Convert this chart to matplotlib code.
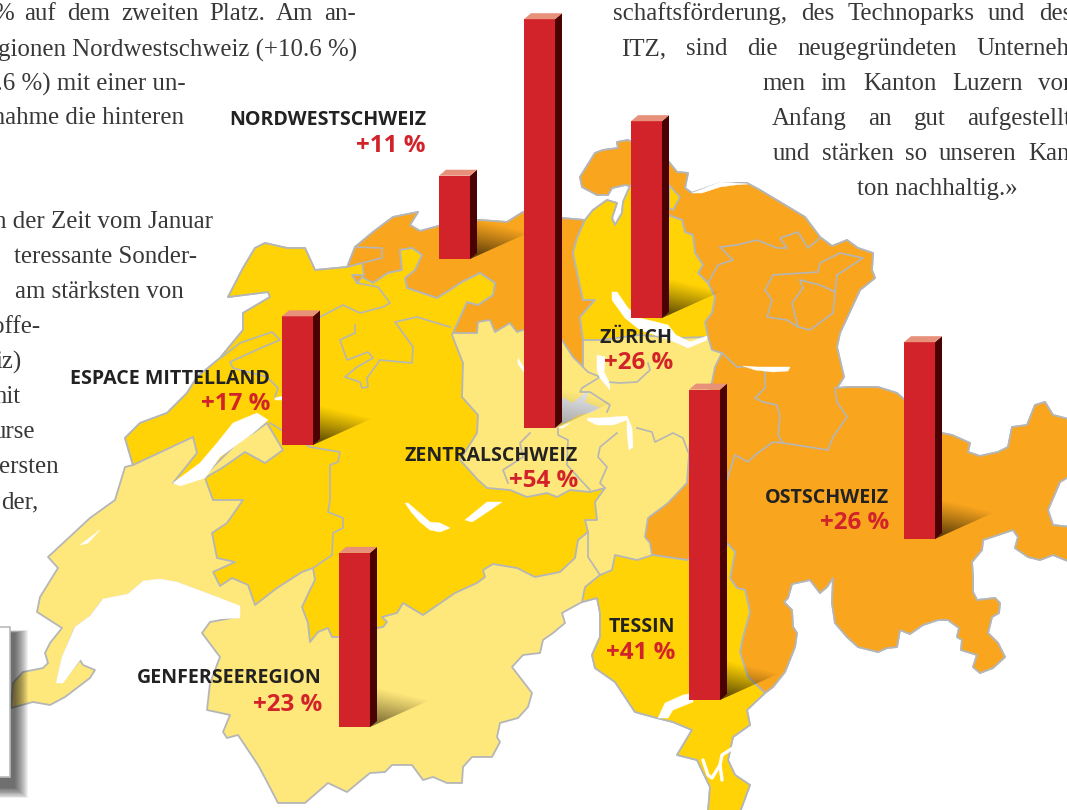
import numpy as np
import matplotlib
matplotlib.use("Agg")
import matplotlib.pyplot as plt
from matplotlib.patches import Polygon, Rectangle

# ---- data -------------------------------------------------------------
regions = ["NORDWESTSCHWEIZ", "ESPACE MITTELLAND", "ZENTRALSCHWEIZ", "ZÜRICH",
           "TESSIN", "OSTSCHWEIZ", "GENFERSEEREGION"]
values = [11, 17, 54, 26, 41, 26, 23]

# ---- layout -----------------------------------------------------------
bar_left = [439, 282, 524, 631, 689, 904, 339]
bar_base = [259, 445, 428, 318, 700, 539, 727]
label_right = [426, 270, 578, 673, 675, 889, 322]
label_y = [120, 379, 456, 338, 627, 498, 678]
value_y = [146, 404, 481, 363, 653, 523, 705]
shadow_strength = [0.8, 0.8, 0.3, 0.8, 0.8, 0.8, 0.65]
PX_PER_PCT = 7.57
BAR_W, DX, DY = 31, 7, 6

LIGHT, DARK, ORANGE = "#FEE77B", "#FFD305", "#F9A51E"
RED, SIDE, TOP, EDGE = "#D2232A", "#4A0202", "#E8917A", "#B4B6B8"

schaff = [(630,186),(625,185),(612,188),(608,195),(597,195),(582,187),(580,177),(595,153),(603,150),(618,148),(617,142),(628,140),
 (669,162),(677,172),(688,173),(685,188),(692,193)]

east = [(720,183),(747,183),(760,190),(805,217),(820,237),(832,246),(847,240),(858,248),(873,253),(872,270),(875,278),
 (860,290),(840,333),(837,347),(844,377),(837,388),(848,387),(878,387),(897,393),(942,433),(952,435),(970,443),(968,452),(980,456),(998,452),
 (1008,447),(1012,427),(1027,425),(1035,405),(1045,402),(1053,415),(1080,422),(1080,470),(1060,482),(1048,510),(1053,525),(1080,528),(1080,566),
 (1053,555),(1040,560),(1028,557),(1015,548),(1018,537),(1013,530),(983,540),(982,550),(972,562),(973,577),(973,592),(977,600),(995,598),(1000,603),
 (999,613),(992,617),(988,633),(998,643),(1005,657),(993,668),(980,673),(973,667),(977,655),(961,650),(962,640),(957,637),(959,628),(948,620),
 (938,620),(923,625),(910,634),(900,630),(897,647),(887,648),(878,652),(858,647),(847,637),(835,623),(832,603),(833,578),(827,587),(820,593),
 (810,580),(792,584),(788,598),(784,602),(792,610),(793,627),(797,633),(795,647),(785,672),(773,687),(765,693)]

country = [(11,708),(13,683),(23,672),(43,668),(48,663),(45,653),(50,643),(62,628),(37,612),(40,597),(58,568),(48,557),(90,518),
 (115,500),(125,467),(133,465),(125,438),(140,423),(167,413),(187,393),(197,377),(220,358),(243,330),(243,313),(270,297),(268,292),(228,297),
 (243,268),(255,248),(265,243),(287,248),(305,248),(315,270),(347,267),(355,247),(373,232),(393,217),(418,212),(410,225),(420,231),(453,222),
 (480,220),(507,222),(523,212),(562,218),(585,220),(593,210),(607,200),(617,203),(612,218),(615,225),(622,213),(623,202)] + schaff + east + [
 (747,710),(750,725),(733,737),
 (728,760),(735,775),(750,785),(740,812),(708,812),(710,787),(697,760),(677,755),(692,730),(673,722),(657,718),(635,712),(625,697),(615,682),
 (595,668),(592,655),(600,637),(600,613),(597,598),(582,602),(562,613),(565,623),(553,633),(543,640),(540,653),(523,655),(512,667),(532,693),
 (528,707),(518,718),(500,723),(497,737),(500,742),(492,757),(472,757),(463,767),(462,783),(447,783),(433,777),(423,780),(412,765),(392,765),
 (385,772),(370,773),(347,792),(328,783),(305,803),(278,803),(265,778),(258,765),(238,735),(227,738),(223,732),(230,715),(207,710),(210,683),
 (220,657),(202,633),(210,622),(237,617),(237,607),(217,598),(177,583),(160,580),(143,582),(128,595),(103,600),(90,617),(75,628),(63,657),
 (57,682),(62,682),(80,660),(83,665),(95,670),(90,678),(65,697),(50,705),(33,702)]

orange = schaff + east + [
 (748,677),(740,652),(743,637),(750,612),(745,590),(737,588),(730,578),(735,552),(727,543),(687,560),(652,555),(650,543),(645,537),(648,518),
 (668,503),(687,483),(690,440),(712,382),(715,367),(722,353),(712,350),(708,337),(705,322),(712,313),(715,297),(708,283),(698,273),(703,265),
 (695,253),(693,235),(685,232),(682,220),(668,215),(668,188)]

nordwest = [(355,247),(373,232),(393,217),(418,212),(410,225),(420,231),(453,222),(480,220),(507,222),(523,212),(562,218),(585,220),
 (577,238),(573,253),(578,277),(583,300),(595,300),(580,317),(583,340),(583,367),(573,357),(562,340),(523,330),(517,332),(510,323),(495,332),
 (490,320),(478,322),(477,333),(453,333),(467,302),(478,305),(493,295),(495,283),(480,273),(462,282),(450,290),(437,298),(407,288),(405,278),
 (415,270),(422,255),(412,248),(400,250),(402,270),(388,273),(373,283),(357,283),(347,268)]

mittelland = [(125,438),(140,423),(167,413),(187,393),(197,377),(220,358),(243,330),(243,313),(270,297),(268,292),(228,297),(243,268),
 (255,248),(265,243),(287,248),(305,248),(315,270),(347,267),(362,263),(364,275),(352,275),(357,283),(362,277),(373,283),(388,273),(402,270),(400,250),(412,248),
 (422,255),(415,270),(405,278),(407,288),(437,298),(450,290),(462,282),(480,273),(495,283),(493,295),(478,305),(467,302),(452,335),(463,363),
 (462,397),(478,415),(477,433),(460,460),(478,480),(487,488),(510,490),(527,497),(547,493),(557,497),(570,490),(590,492),(605,488),(595,502),
 (597,520),(585,520),(588,532),(578,540),(575,558),(560,572),(535,577),(517,568),(493,564),(483,570),(485,577),(477,583),(455,593),(423,615),
 (403,603),(397,613),(382,617),(387,622),(383,627),(377,628),(339,637),(332,637),(328,628),(318,632),(310,642),(308,623),(302,607),(310,590),
 (315,580),(313,568),(302,572),(277,588),(255,605),(248,585),(232,578),(220,586),(213,572),(235,562),(217,558),(212,533),(227,523),(243,500),
 (213,500),(205,478),(222,468),(245,452),(265,463),(283,450),(267,423),(253,433),(240,440),(205,475),(173,483),(197,453),(193,437),(133,465)]

zurich = [(585,220),(593,210),(607,200),(617,203),(612,218),(615,225),(622,213),(623,202),(630,186),(668,188),(668,215),(682,220),(685,232),(693,235),(695,253),
 (703,265),(698,273),(708,283),(715,297),(712,313),(705,322),(708,337),(675,338),(640,335),(600,340),(583,340),(580,317),(595,300),(583,300),
 (578,277),(573,253),(577,238)]
zurich_tip = [(669,185),(680,197),(673,210),(669,208)]

tessin = [(582,602),(585,587),(600,575),(612,570),(615,555),(637,560),(653,555),(687,560),(727,543),(735,552),(730,578),(737,588),(745,590),
 (750,612),(743,637),(740,652),(748,677),(765,693),(747,710),(750,725),(733,737),(728,760),(735,775),(750,785),(740,812),(708,812),(710,787),
 (697,760),(677,755),(692,730),(673,722),(657,718),(635,712),(625,697),(615,682),(595,668),(592,655),(600,637),(600,613),(597,598)]

lakes = [
 [(211,619),(240,618),(240,606),(217,597),(177,582),(160,579),(143,581),(128,594),(103,599),(90,616),(75,627),(62,657),(56,683),(63,683),(80,660),(100,640),(150,625)],
 [(173,483),(200,463),(217,443),(233,423),(257,413),(268,420),(253,433),(220,457),(205,478),(180,486)],
 [(612,292),(617,292),(628,308),(640,318),(668,325),(676,335),(690,342),(707,336),(707,340),(688,348),(670,340),(640,330),(625,318),(612,300)],
 [(405,503),(412,513),(420,522),(430,530),(440,532),(450,528),(440,523),(430,522),(422,515),(408,503)],
 [(465,520),(487,502),(502,502),(480,517),(472,522)],
 [(80,545),(100,530),(88,543)],
 [(743,366),(757,367),(790,367),(788,371),(773,372),(755,370)],
 [(658,718),(665,703),(683,695),(693,693),(693,702),(673,710),(668,718)],
 [(692,193),(700,190),(720,182),(748,184),(735,185),(720,187),(702,193)],
 [(597,355),(605,357),(604,372),(609,382),(610,390),(600,378),(597,370)],
 [(588,418),(600,418),(627,416),(632,428),(633,447),(629,450),(627,433),(627,420),(613,425),(597,425),(587,420)],
 [(558,428),(570,423),(563,428)],
 [(518,358),(524,368),(524,372),(518,364)],
 [(275,398),(283,396),(283,400),(275,400)],
]
zug_lake = [(563,397),(572,403),(589,390),(585,402),(600,408),(590,413),(578,415),(565,423),(556,423)]
lugano = [[(703,760),(708,775),(712,778),(720,765),(722,755),(733,748)], [(720,765),(722,780)]]

borders = [
 [(222,357),(240,343),(272,332),(280,340),(263,347),(230,362),(233,368),(267,377),(278,388),(275,397)],
 [(320,317),(343,305),(360,313),(383,307),(390,303),(378,287),(357,283)],
 [(355,325),(355,333),(340,340),(347,360),(368,352),(373,358),(357,367),(345,377),(360,382),(362,388),(368,387),(367,378),(380,360),(412,363),(413,347),(395,322),(417,317),(450,327)],
 [(270,423),(310,447),(340,452),(338,462),(330,465),(330,500),(328,512),(343,518),(343,528),(333,533),(332,555),(313,568)],
 [(355,247),(382,248),(382,258),(362,263)],
 [(530,433),(520,443),(523,457),(503,470),(508,483)],
 [(558,428),(558,435),(568,440),(567,465),(578,477),(590,490)],
 [(617,433),(600,447),(598,457),(607,467),(600,483),(605,488)],
 [(637,428),(652,432),(655,442),(673,433),(683,438),(688,452)],
 [(583,367),(588,372),(600,377),(582,388),(580,392),(590,392),(610,405),(607,412)],
 [(600,377),(608,382),(620,383),(637,382),(650,370),(648,363)],
 [(588,532),(588,557),(600,575)],
 [(720,247),(737,245),(757,240),(777,248),(787,248),(780,238),(798,232),(808,248),(820,238)],
 [(720,247),(733,260),(718,265),(708,283)],
 [(837,275),(863,258),(840,253),(820,263),(818,272),(773,275),(765,290),(772,300),(767,317),(787,320),(798,327),(810,330),(833,313),(837,275)],
 [(800,280),(820,285),(835,292)],
 [(800,280),(803,288),(792,303),(798,327)],
 [(722,353),(737,367),(743,367)],
 [(765,372),(765,388),(755,398),(763,402),(777,405),(780,417),(778,435),(783,443),(773,442),(755,455),(748,462),(735,455),(727,480)],
 [(783,443),(828,450),(833,437),(847,417),(837,402),(835,388)],
]

left_first = ("% auf dem zweiten Platz. Am an-", -7, 356, 14)
left_text = [("gionen Nordwestschweiz (+10.6 %)",357,50),
 ("6.6 %) mit einer un-",186,84),("Zunahme die hinteren",184,118),("n der Zeit vom Januar",213,222),
 ("teressante Sonder-",197,257),("am stärksten von",184,292),("offe-",40,327),("iz)",22,362),
 ("mit",21,397),("urse",35,432),("ersten",59,467),("der,",38,502)]
right_text = [("schaftsförderung, des Technoparks und des",613,1072,14),
 ("ITZ, sind die neugegründeten Unterneh-",621,1078,49),
 ("men im Kanton Luzern von",762,1076,84),
 ("Anfang an gut aufgestellt",772,1071,119),
 ("und stärken so unseren Kan-",773,1078,154)]
last_line = ("ton nachhaltig.»", 937, 189)

# ---- figure -----------------------------------------------------------
fig = plt.figure(figsize=(10.67, 8.10), dpi=100, facecolor="white")
ax = fig.add_axes([0, 0, 1, 1])
ax.set_xlim(0, 1067); ax.set_ylim(810, 0); ax.axis("off")

def poly(pts, color, z, lw=1.3, ec=EDGE):
    ax.add_patch(Polygon(pts, closed=True, facecolor=color, edgecolor=ec, linewidth=lw, joinstyle="round", zorder=z))

poly(country, LIGHT, 1)
poly(orange, ORANGE, 2)
poly(nordwest, ORANGE, 2)
poly(mittelland, DARK, 3)
poly(zurich, DARK, 3)
poly(zurich_tip, DARK, 3)
poly(tessin, DARK, 3)
poly(zug_lake, "#DDDFE3", 4, lw=0)
for b in borders:
    ax.plot(*zip(*b), color=EDGE, lw=1.2, zorder=4, solid_joinstyle="round")
for l in lakes:
    poly(l, "white", 5, lw=0.3, ec="white")
for l in lugano:
    ax.plot(*zip(*l), color="white", lw=2.4, zorder=5, solid_capstyle="round")

def shadow(xr, base, strength):
    x0, x1, y0, y1 = xr, xr + 62, base - 42, base
    xs = np.linspace(x0, x1, 80); ys = np.linspace(y0, y1, 60)
    X, Y = np.meshgrid(xs, ys)
    low = base - (X - xr) * 27 / 60
    high = (base - 40) + (X - xr - 7) * 13 / 53
    v = np.clip((low - Y) / np.maximum(low - high, 1), 0, 1)
    u = np.clip((X - xr) / 60, 0, 1)
    a = strength * (1 - u) ** 1.0 * (1 - v) ** 1.1
    rgba = np.zeros(X.shape + (4,))
    rgba[..., 0] = 0.12; rgba[..., 1] = 0.08; rgba[..., 3] = a
    im = ax.imshow(rgba, extent=(x0, x1, y1, y0), origin="upper", aspect="auto",
                   interpolation="bilinear", zorder=6)
    clip = Polygon([(xr, base), (xr + 60, base - 27), (xr + 7, base - 40), (xr, base - 40)],
                   transform=ax.transData)
    im.set_clip_path(clip)

for v, x, b, s in zip(values, bar_left, bar_base, shadow_strength):
    h = v * PX_PER_PCT
    shadow(x + BAR_W, b, s)
    top = b - h
    ax.bar(x, -h, width=BAR_W, bottom=b, align="edge", color=RED, linewidth=0, zorder=7)
    ax.add_patch(Polygon([(x + BAR_W, top), (x + BAR_W + DX, top - DY), (x + BAR_W + DX, b - DY), (x + BAR_W, b)],
                         facecolor=SIDE, linewidth=0, zorder=7))
    ax.add_patch(Polygon([(x, top), (x + DX, top - DY), (x + BAR_W + DX, top - DY), (x + BAR_W, top)],
                         facecolor=TOP, linewidth=0, zorder=7))

for name, v, xr, y1, y2 in zip(regions, values, label_right, label_y, value_y):
    ax.text(xr, y1, name, ha="right", va="center", family="Open Sans", weight="bold",
            fontsize=14.1, color="#222222", zorder=9)
    ax.text(xr, y2, f"+{v} %", ha="right", va="center", family="Open Sans", weight="bold",
            fontsize=17.4, color=RED, zorder=9)

BODY = dict(family="Liberation Serif", fontsize=17.9, color="#38383A", va="center", zorder=9)
for s, xr, y in left_text:
    ax.text(xr, y, s, ha="right", **BODY)

renderer = fig.canvas.get_renderer()
def justified(s, x0, x1, y):
    words = s.split(" ")
    arts = [ax.text(x0, y, w, ha="left", **BODY) for w in words]
    widths = [a.get_window_extent(renderer).width for a in arts]
    gap = (x1 - x0 - sum(widths)) / (len(words) - 1)
    x = x0
    for a, w in zip(arts, widths):
        a.set_x(x)
        x += w + gap

justified(left_first[0], left_first[1], left_first[2], left_first[3])
for s, x0, x1, y in right_text:
    justified(s, x0, x1, y)
ax.text(last_line[1], last_line[2], last_line[0], ha="center", **BODY)

# info box with soft shadow at lower left
for i in range(14):
    d = 14 - i
    ax.add_patch(Rectangle((-10, 633 - d * 0.2), 24 + d, 154 + d, facecolor="black",
                           alpha=0.055, linewidth=0, zorder=10))
ax.add_patch(Rectangle((-10, 627), 20, 150, facecolor="white", edgecolor="#B8BABC", linewidth=1.2, zorder=11))

fig.savefig("out.png", dpi=100)
